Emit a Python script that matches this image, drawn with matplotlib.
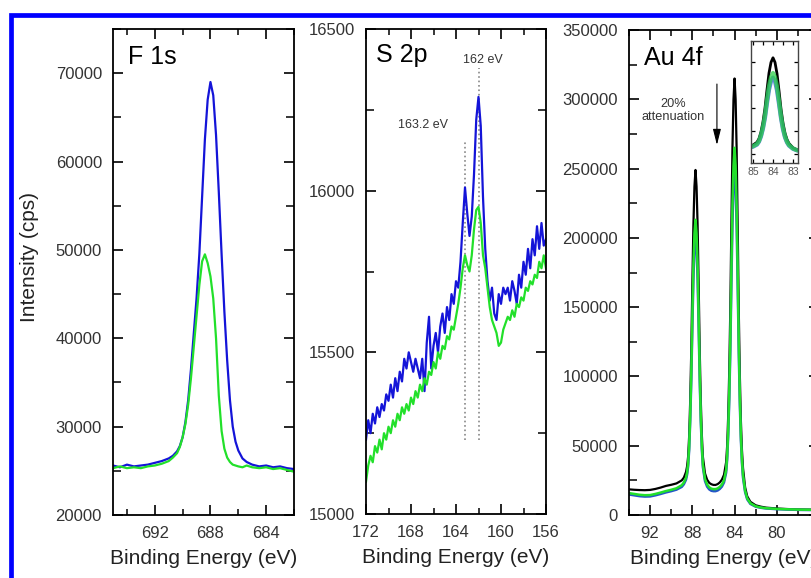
"""
XPS spectra: F 1s, S 2p and Au 4f regions (three panels + Au inset).
"""
import matplotlib
matplotlib.use('Agg')
import matplotlib.pyplot as plt
import matplotlib.ticker as ticker
from matplotlib.patches import Rectangle

# ============================================================
# Data
# ============================================================
f1s_be = [695, 694.5, 694, 693.5, 693, 692.5, 692, 691.5, 691, 690.7, 690.4, 690.2,
          690.0, 689.8, 689.6, 689.4, 689.2, 689.0, 688.8, 688.6, 688.4, 688.2, 688.0,
          687.8, 687.6, 687.4, 687.2, 687.0, 686.8, 686.6, 686.4, 686.2, 686.0,
          685.7, 685.4, 685.0, 684.5, 684, 683.5, 683, 682.5, 682]
f1s_blue = [25600, 25400, 25700, 25500, 25600, 25700, 25900, 26100, 26400, 26700, 27200, 27800,
            28800, 30500, 33000, 36500, 40500, 44500, 49500, 56000, 62500, 67000, 69000,
            67500, 63000, 56500, 49500, 43000, 37500, 33000, 30000, 28300, 27300,
            26400, 26000, 25700, 25500, 25600, 25400, 25500, 25300, 25200]
f1s_green = [25300, 25500, 25300, 25400, 25300, 25500, 25600, 25800, 26100, 26500, 27000, 27700,
             28800, 30300, 32500, 35500, 39000, 42500, 46000, 48700, 49500, 48500, 47000,
             44500, 40000, 33500, 29500, 27500, 26500, 26000, 25700, 25600, 25500,
             25400, 25600, 25400, 25300, 25400, 25200, 25300, 25100, 24900]

s2p_be = [172.0, 171.8, 171.6, 171.4, 171.2, 171.0, 170.8, 170.6, 170.4, 170.2,
          170.0, 169.8, 169.6, 169.4, 169.2, 169.0, 168.8, 168.6, 168.4, 168.2,
          168.0, 167.8, 167.6, 167.4, 167.2, 167.0, 166.8, 166.6, 166.4, 166.2,
          166.0, 165.8, 165.6, 165.4, 165.2, 165.0, 164.8, 164.6, 164.4, 164.2,
          164.0, 163.8, 163.6, 163.4, 163.2, 163.0, 162.8, 162.6, 162.4, 162.2,
          162.0, 161.8, 161.6, 161.4, 161.2, 161.0, 160.8, 160.6, 160.4, 160.2,
          160.0, 159.8, 159.6, 159.4, 159.2, 159.0, 158.8, 158.6, 158.4, 158.2,
          158.0, 157.8, 157.6, 157.4, 157.2, 157.0, 156.8, 156.6, 156.4, 156.2, 156.0]
s2p_blue = [15230, 15290, 15250, 15310, 15280, 15330, 15300, 15340, 15320, 15370,
            15350, 15400, 15360, 15420, 15380, 15440, 15410, 15480, 15450, 15500,
            15470, 15440, 15480, 15450, 15420, 15480, 15380, 15530, 15610, 15450,
            15520, 15560, 15500, 15580, 15620, 15560, 15640, 15600, 15680, 15650,
            15720, 15700, 15780, 15900, 16010, 15930, 15860, 15920, 16050, 16220,
            16290, 16200, 15980, 15820, 15720, 15660, 15700, 15620, 15600, 15680,
            15650, 15700, 15680, 15700, 15660, 15720, 15690, 15650, 15740, 15700,
            15780, 15740, 15820, 15760, 15850, 15800, 15890, 15820, 15900, 15830, 15850]
s2p_green = [15100, 15150, 15180, 15160, 15210, 15190, 15230, 15200, 15250, 15230,
             15270, 15250, 15290, 15270, 15310, 15290, 15330, 15310, 15340, 15320,
             15360, 15340, 15380, 15360, 15400, 15380, 15420, 15400, 15440, 15430,
             15470, 15450, 15500, 15480, 15520, 15510, 15550, 15540, 15580, 15570,
             15610, 15650, 15700, 15760, 15800, 15770, 15750, 15800, 15880, 15940,
             15950, 15900, 15800, 15760, 15700, 15640, 15600, 15580, 15560, 15520,
             15530, 15570, 15590, 15610, 15600, 15630, 15610, 15650, 15640, 15670,
             15660, 15700, 15690, 15720, 15710, 15740, 15730, 15780, 15760, 15800, 15760]
s2p_peaks = [163.2, 162.0]
s2p_peak_tops = [16157, 16380]
s2p_peak_labels = ['163.2 eV', '162 eV']

au_be = [94, 93.5, 93, 92.5, 92, 91.5, 91, 90.5, 90, 89.5, 89,
         88.8, 88.6, 88.5, 88.4, 88.3, 88.2, 88.1, 88.0,
         87.9, 87.8, 87.7, 87.6, 87.5, 87.4, 87.3, 87.2, 87.1, 87.0,
         86.8, 86.6, 86.4, 86.2, 86.0, 85.8, 85.6, 85.4, 85.2, 85.0,
         84.8, 84.7, 84.6, 84.5, 84.4, 84.3, 84.2, 84.1, 84.0,
         83.9, 83.8, 83.7, 83.6, 83.5, 83.4, 83.3, 83.2, 83.0, 82.8,
         82.5, 82.0, 81.5, 81.0, 80.0, 79.0, 78.0, 77.0, 76.0]
au_black = [18500, 18200, 18000, 17900, 18100, 18800, 19800, 21000, 21800, 22800, 25000,
            27000, 31000, 35000, 42000, 57000, 83000, 119000, 166000,
            209000, 237000, 249000, 237000, 209000, 166000, 119000, 83000, 58000, 42000,
            30000, 25500, 23200, 22200, 21700, 21700, 22300, 23500, 25500, 29000,
            38000, 50000, 72000, 105000, 150000, 210000, 265000, 300000, 315000,
            300000, 263000, 207000, 147000, 101000, 68000, 47000, 34000, 20000, 13500,
            9500, 7000, 6000, 5300, 4700, 4300, 4000, 3900, 3800]
au_green = [15800, 15200, 14600, 14300, 14400, 15200, 16200, 17300, 18200, 19300, 21500,
            23500, 27000, 30500, 37000, 49500, 71500, 102000, 142000,
            179000, 203000, 213000, 203000, 179000, 142000, 102000, 71500, 50000, 36500,
            26000, 22000, 20000, 19000, 18700, 18700, 19200, 20300, 22000, 25000,
            32500, 42500, 61000, 88500, 126500, 177000, 223000, 252000, 265000,
            252000, 221000, 174000, 124000, 85000, 57500, 40000, 29000, 17500, 12000,
            8500, 6300, 5400, 4900, 4400, 4100, 3900, 3800, 3700]
au_blue = [14800, 14200, 13600, 13300, 13400, 14200, 15200, 16300, 17200, 18300, 20300,
           22200, 25500, 29000, 35000, 47000, 68000, 97000, 135000,
           170000, 193000, 203000, 193000, 170000, 135000, 97000, 68000, 47500, 34500,
           24500, 20500, 18500, 17500, 17200, 17200, 17700, 18800, 20500, 23500,
           30500, 40000, 57500, 83500, 119000, 167000, 210000, 238000, 250000,
           238000, 208000, 164000, 117000, 80000, 54000, 37500, 27000, 16500, 11300,
           8000, 6000, 5200, 4700, 4200, 3900, 3700, 3600, 3500]
au_xticks = [92, 88, 84, 80]

# ============================================================
# Style
# ============================================================
plt.rcParams.update({
    'font.family': ['Liberation Sans', 'DejaVu Sans'],
    'font.size': 12,
    'axes.linewidth': 1.3,
    'xtick.direction': 'in',
    'ytick.direction': 'in',
    'xtick.top': True,
    'ytick.right': True,
})

BLUE = '#1414d8'
GREEN = '#22e02a'
TICK_COLOR = '#333333'

W, H = 811, 578
fig = plt.figure(figsize=(W / 100, H / 100), dpi=100)


def px_axes(left, top, right, bottom):
    return fig.add_axes([left / W, 1 - bottom / H, (right - left) / W, (bottom - top) / H])


def style_axes(ax, xmaj, xmin, ymaj, ymin, labelsize=12):
    ax.xaxis.set_major_locator(ticker.MultipleLocator(xmaj))
    ax.xaxis.set_minor_locator(ticker.MultipleLocator(xmin))
    ax.yaxis.set_major_locator(ticker.MultipleLocator(ymaj))
    ax.yaxis.set_minor_locator(ticker.MultipleLocator(ymin))
    ax.tick_params(which='major', length=7, width=1.2, labelsize=labelsize,
                   labelcolor=TICK_COLOR, pad=8)
    ax.tick_params(which='minor', length=4, width=1.1)
    ax.tick_params(axis='y', which='minor', length=6)
    ax.yaxis.set_major_formatter(ticker.FormatStrFormatter('%d'))
    ax.xaxis.set_major_formatter(ticker.FormatStrFormatter('%d'))
    ax.set_xlabel('Binding Energy (eV)', fontsize=15, color='#222222', labelpad=6)


# ============================================================
# Panel 1: F 1s
# ============================================================
ax1 = px_axes(113, 29, 294, 515)
ax1.plot(f1s_be, f1s_blue, color=BLUE, lw=1.6)
ax1.plot(f1s_be, f1s_green, color=GREEN, lw=1.6)
ax1.set_xlim(695, 682)
ax1.set_ylim(20000, 75000)
style_axes(ax1, 4, 2, 10000, 5000)
ax1.set_ylabel('Intensity (cps)', fontsize=15, color='#222222')
ax1.yaxis.set_label_coords(-0.41, 0.53)
ax1.text(0.083, 0.968, 'F 1s', transform=ax1.transAxes, fontsize=18, va='top', ha='left')

# ============================================================
# Panel 2: S 2p
# ============================================================
ax2 = px_axes(366, 29, 546, 514)
ax2.vlines(s2p_peaks, 15229, s2p_peak_tops, colors='#888888', linestyles=':', lw=1.2)
ax2.plot(s2p_be, s2p_blue, color=BLUE, lw=1.6)
ax2.plot(s2p_be, s2p_green, color=GREEN, lw=1.6)
ax2.set_xlim(172, 156)
ax2.set_ylim(15000, 16500)
style_axes(ax2, 4, 2, 500, 250)
ax2.text(0.056, 0.972, 'S 2p', transform=ax2.transAxes, fontsize=18, va='top', ha='left')
ax2.text(166.93, 16203, s2p_peak_labels[0], fontsize=9, color='#333333', ha='center', va='center')
ax2.text(161.6, 16404, s2p_peak_labels[1], fontsize=9, color='#333333', ha='center', va='center')

# ============================================================
# Panel 3: Au 4f (extends past the right edge like the original)
# ============================================================
ax3 = px_axes(629, 30, 819, 515)
ax3.plot(au_be, au_black, color='black', lw=1.6)
ax3.plot(au_be, au_blue, color='#2456c8', lw=1.8)
ax3.plot(au_be, au_green, color=GREEN, lw=1.8)
ax3.set_xlim(94, 76)
ax3.set_ylim(0, 350000)
style_axes(ax3, 4, 2, 50000, 25000)
ax3.xaxis.set_major_locator(ticker.FixedLocator(au_xticks))
ax3.text(0.079, 0.966, 'Au 4f', transform=ax3.transAxes, fontsize=18, va='top', ha='left')
ax3.text(89.83, 292000, '20%\nattenuation', fontsize=9.2, color='#333333',
         ha='center', va='center', linespacing=1.1)
ax3.annotate('', xy=(85.67, 265000), xytext=(85.67, 313000),
             arrowprops=dict(arrowstyle='-|>,head_length=0.8,head_width=0.2',
                             color='black', lw=0.8))

# Inset: zoom on Au 4f7/2 peak
axi = px_axes(751, 41, 798, 163)
axi.plot(au_be, au_black, color='black', lw=2.0)
axi.plot(au_be, au_blue, color='#2a62c8', lw=3.0, alpha=0.75)
axi.plot(au_be, au_green, color='#2ed04a', lw=3.0, alpha=0.75)
axi.set_xlim(85.1, 82.75)
axi.set_ylim(-30000, 370000)
axi.xaxis.set_major_locator(ticker.FixedLocator([85, 84, 83]))
axi.xaxis.set_minor_locator(ticker.MultipleLocator(0.5))
axi.yaxis.set_major_locator(ticker.MultipleLocator(75000))
axi.xaxis.set_major_formatter(ticker.FormatStrFormatter('%d'))
axi.tick_params(which='both', length=3, width=0.9, labelsize=7.5, labelcolor='#555555', pad=3)
axi.tick_params(axis='y', labelleft=False)
for sp in axi.spines.values():
    sp.set_linewidth(1.0)
    sp.set_color('#444444')

# Blue frame around the figure (cut at right and bottom)
fig.add_artist(Rectangle((10.5 / W, -0.1), 2, 1 - 15 / H + 0.1, transform=fig.transFigure,
                         fill=False, edgecolor='#0000ff', lw=3.4))

fig.savefig('out.png', dpi=100)
print("Saved: out.png")
